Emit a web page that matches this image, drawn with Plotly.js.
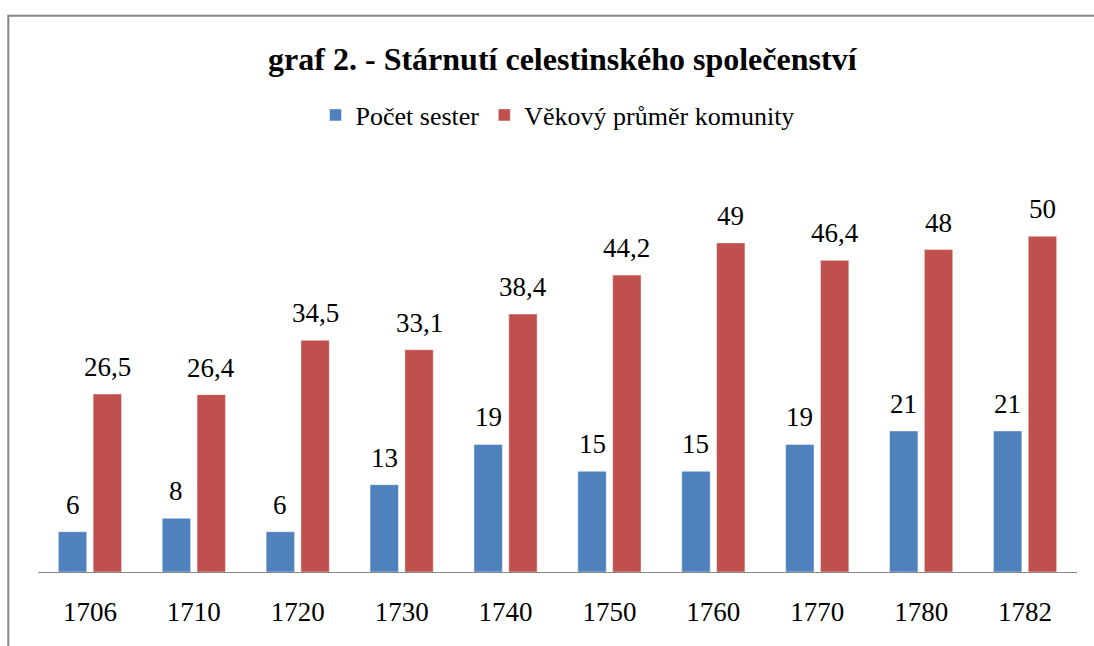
<!DOCTYPE html>
<html>
<head>
<meta charset="utf-8">
<script src="https://cdn.plot.ly/plotly-3.0.1.min.js"></script>
<style>html,body{margin:0;padding:0;background:#fff;}#chart{width:1094px;height:646px;}</style>
</head>
<body>
<div id="chart"></div>
<script>
const years = ['1706','1710','1720','1730','1740','1750','1760','1770','1780','1782'];
const pocetSester = [6, 8, 6, 13, 19, 15, 15, 19, 21, 21];
const vekovyPrumer = [26.5, 26.4, 34.5, 33.1, 38.4, 44.2, 49, 46.4, 48, 50];
const seriesNames = ['Počet sester', 'Věkový průměr komunity'];
const seriesColors = ['#4F81BD', '#C0504D'];

const W = 1094, H = 646;
const margin = {l: 38, r: 17, t: 169, b: 74};
const bargap = 0.33, bargroupgap = 0.184;
const FONT = "'Liberation Serif', 'Times New Roman', serif";

const plotW = W - margin.l - margin.r;
const catW = plotW / years.length;
const slot = catW * (1 - bargap) / 2;
const fmt = v => String(v).replace('.', ',');

const allSeries = [pocetSester, vekovyPrumer];
const traces = allSeries.map((vals, i) => ({
  type: 'bar',
  name: seriesNames[i],
  x: years,
  y: vals,
  marker: {color: seriesColors[i], line: {color: 'rgba(255,255,255,0.45)', width: 1}},
  hoverinfo: 'skip'
}));

const annotations = [];
allSeries.forEach((vals, i) => {
  const shift = (i === 0 ? -1 : 1) * slot / 2;
  vals.forEach((v, k) => {
    annotations.push({
      x: k, y: v, xref: 'x', yref: 'y',
      text: fmt(v), showarrow: false,
      xanchor: 'center', yanchor: 'bottom',
      xshift: shift, yshift: 10,
      font: {family: FONT, size: 27, color: '#000'}
    });
  });
});

const layout = {
  width: W, height: H,
  margin: margin,
  paper_bgcolor: '#fff', plot_bgcolor: '#fff',
  font: {family: FONT, color: '#000'},
  barmode: 'group',
  bargap: bargap, bargroupgap: bargroupgap,
  title: {
    text: 'graf 2. - Stárnutí celestinského společenství',
    font: {family: FONT, size: 32, weight: 'bold', color: '#000'},
    xref: 'container', yref: 'container',
    x: 0.514, xanchor: 'center', y: 0.909, yanchor: 'middle'
  },
  showlegend: true,
  legend: {
    orientation: 'h', x: 0.5, xanchor: 'center', y: 1.134, yanchor: 'middle',
    font: {family: FONT, size: 26, color: '#000'},
    traceorder: 'normal', itemclick: false
  },
  xaxis: {
    type: 'category',
    range: [-0.5, years.length - 0.5],
    showgrid: false, zeroline: false,
    showline: true, linecolor: '#868686', linewidth: 1,
    ticks: '', ticklabelstandoff: 16,
    tickfont: {family: FONT, size: 27, color: '#000'},
    fixedrange: true
  },
  yaxis: {
    range: [0, 60],
    showgrid: false, zeroline: false, showline: false,
    showticklabels: false, ticks: '', fixedrange: true
  },
  annotations: annotations,
  shapes: [{
    type: 'path', xref: 'paper', yref: 'paper',
    path: 'M -0.0286,-0.3 L -0.0286,1.380 L 1.1,1.380',
    line: {color: '#868686', width: 2}
  }]
};

Plotly.newPlot('chart', traces, layout, {displayModeBar: false, staticPlot: true});
</script>
</body>
</html>
